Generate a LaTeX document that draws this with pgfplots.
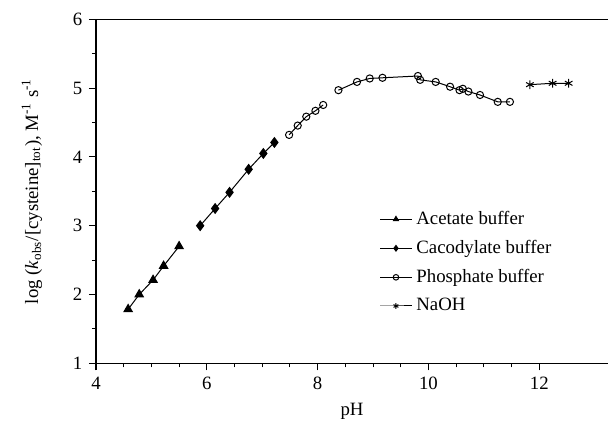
\documentclass[border=0pt]{standalone}
\usepackage{fontspec}
\setmainfont{Liberation Serif}
\usepackage{pgfplots}
\pgfplotsset{compat=1.18}
\begin{document}
\fontsize{9.4}{11}\selectfont
\begin{tikzpicture}
\begin{axis}[name=ax, scale only axis, width=256pt, height=172pt,
  xmin=4, xmax=13.24, ymin=1, ymax=6,
  axis x line*=box, axis y line*=left,
  xtick pos=left, ytick pos=left,
  xtick={4,6,8,10,12}, ytick={1,2,3,4,5,6},
  minor x tick num=3, minor y tick num=1,
  tick align=outside, major tick length=3.5pt, minor tick length=2pt,
  tick style={black, line width=0.5pt},
  axis line style={line width=0.6pt},
  /pgf/number format/assume math mode=true,
  ticklabel style={font=\fontsize{9.4}{11}\selectfont},
  xlabel={pH},
  ylabel={log (\textit{k}\textsubscript{obs}/[cysteine]\textsubscript{tot}), M\textsuperscript{-1} s\textsuperscript{-1}},
  xlabel style={at={(axis description cs:0.5,-0.14)}, anchor=center},
  ylabel style={at={(axis description cs:-0.125,0.5)}, anchor=center},
  legend style={draw=none, fill=none, at={(axis description cs:0.553,0.455)}, anchor=north west,
    inner sep=0pt, row sep=2.5pt, font=\fontsize{9.4}{11}\selectfont},
  legend cell align=left,
  legend image code/.code={\draw[mark repeat=2, mark phase=2, mark size=1.4pt] plot coordinates {(0cm,0cm) (0.28cm,0cm) (0.56cm,0cm)};},
  every axis plot/.append style={black, line width=0.5pt},
  phos/.style={mark=o, mark size=1.8pt, mark options={fill=white, line width=0.5pt}},
]
\addplot[mark=triangle*, mark size=2.4pt] coordinates {
  (4.58,1.785) (4.78,2.00) (5.03,2.21) (5.22,2.415) (5.50,2.70)};
\addlegendentry{Acetate buffer}
\addplot[mark=diamond*, mark size=2.4pt] coordinates {
  (5.88,3.00) (6.15,3.25) (6.41,3.485) (6.755,3.82) (7.02,4.05) (7.22,4.21)};
\addlegendentry{Cacodylate buffer}
\addplot[phos] coordinates {
  (7.485,4.32) (7.64,4.455) (7.795,4.585) (7.96,4.67) (8.10,4.755)};
\addlegendentry{Phosphate buffer}
\addplot[mark=asterisk, mark size=2.2pt] coordinates {
  (11.83,5.05) (12.24,5.07) (12.53,5.07)};
\addlegendentry{NaOH}
\addplot[phos, forget plot] coordinates {
  (8.375,4.97) (8.71,5.09) (8.94,5.14) (9.17,5.15) (9.81,5.176) (9.85,5.12)
  (10.13,5.09) (10.39,5.02) (10.56,4.97) (10.62,4.99) (10.72,4.95) (10.93,4.90)
  (11.25,4.80) (11.47,4.80)};
\end{axis}
\pgfresetboundingbox
\path ([xshift=-48pt,yshift=-32.35pt]ax.south west) rectangle ([yshift=9.65pt]ax.north east);
\end{tikzpicture}
\end{document}
